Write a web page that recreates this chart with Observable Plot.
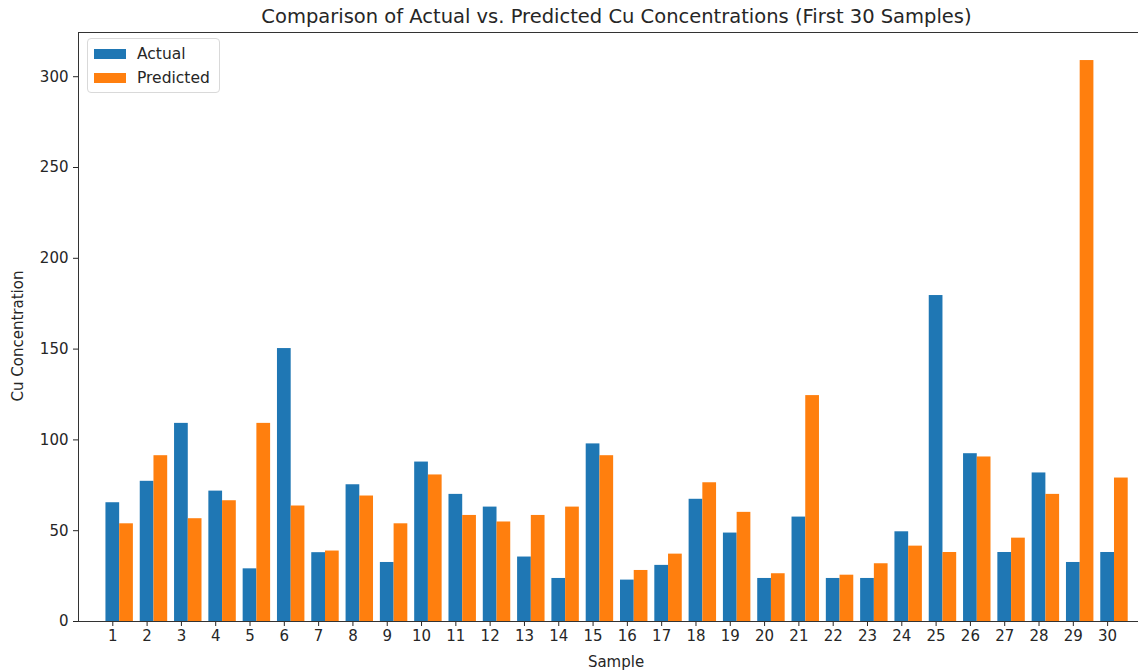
<!DOCTYPE html>
<html>
<head>
<meta charset="utf-8">
<script src="https://cdn.jsdelivr.net/npm/d3@7"></script>
<script src="https://cdn.jsdelivr.net/npm/@observablehq/plot@0.6"></script>
<style>
  html, body { margin: 0; padding: 0; background: #fff; }
  #wrap { position: relative; width: 1138px; height: 672px; overflow: hidden; font-family: "DejaVu Sans", sans-serif; color: #262626; }
  #title { position: absolute; left: 78px; width: 1077px; top: 5px; text-align: center; font-size: 19.5px; line-height: 24px; }
  #chart { position: absolute; left: 0; top: 28px; }
  #ylabel { position: absolute; left: 18px; top: 336px; transform: translate(-50%, -50%) rotate(-90deg); font-size: 15px; white-space: nowrap; }
  #xlabel { position: absolute; left: 616px; top: 662px; transform: translate(-50%, -50%); font-size: 15px; white-space: nowrap; }
  #legend { position: absolute; left: 87px; top: 38px; width: 133px; height: 55px; border: 1px solid #d9d9d9; border-radius: 4px; background: rgba(255,255,255,0.85); box-sizing: border-box; }
  .sw { position: absolute; left: 6px; width: 32px; height: 10px; }
  .lt { position: absolute; left: 49px; font-size: 15.5px; line-height: 18px; }
</style>
</head>
<body>
<div id="wrap">
  <div id="title"></div>
  <div id="chart"></div>
  <div id="ylabel"></div>
  <div id="xlabel"></div>
  <div id="legend"></div>
</div>
<script>
const titleText = "Comparison of Actual vs. Predicted Cu Concentrations (First 30 Samples)";
const xLabel = "Sample";
const yLabel = "Cu Concentration";
const series = ["Actual", "Predicted"];
const colors = ["#1f77b4", "#ff7f0e"];
const samples = [1,2,3,4,5,6,7,8,9,10,11,12,13,14,15,16,17,18,19,20,21,22,23,24,25,26,27,28,29,30];
const actual = [65.4,77.2,109.1,71.8,29.0,150.3,37.9,75.3,32.5,87.8,70.0,63.0,35.5,23.7,97.8,22.8,30.9,67.3,48.7,23.7,57.5,23.7,23.7,49.4,179.5,92.4,38.0,81.8,32.5,38.0];
const predicted = [53.8,91.3,56.6,66.5,109.1,63.6,38.8,69.1,53.8,80.7,58.4,54.8,58.4,63.0,91.3,28.1,37.1,76.4,60.1,26.3,124.4,25.5,31.8,41.5,38.0,90.6,45.9,70.0,308.9,79.0];
const yTicks = [0,50,100,150,200,250,300];

const rows = samples.flatMap((s, i) => [
  {sample: s, series: series[0], value: actual[i]},
  {sample: s, series: series[1], value: predicted[i]}
]);

const yMax = d3.max(rows, d => d.value) * 1.05;

const chart = Plot.plot({
  width: 1138,
  height: 644,
  marginLeft: 78,
  marginRight: 0,
  marginTop: 4,
  marginBottom: 51,
  style: {fontFamily: "DejaVu Sans, sans-serif", fontSize: "15px", color: "#262626", background: "transparent"},
  x: {domain: [0, 30.9], ticks: samples, tickFormat: d => String(d), tickSize: 5, tickPadding: 4, label: null},
  y: {domain: [0, yMax], ticks: yTicks, tickFormat: d => String(d), tickSize: 5, tickPadding: 5, label: null},
  color: {domain: series, range: colors},
  marks: [
    Plot.rect(rows, {
      x1: d => d.sample + (d.series === series[0] ? -0.2 : 0.2),
      x2: d => d.sample + (d.series === series[0] ? 0.2 : 0.6),
      y1: 0,
      y2: "value",
      fill: "series",
      inset: 0
    }),
    Plot.ruleY([0], {stroke: "#333"}),
    Plot.ruleY([yMax], {stroke: "#333"}),
    Plot.ruleX([0], {stroke: "#333"})
  ]
});
document.getElementById("chart").appendChild(chart);
document.getElementById("title").textContent = titleText;
document.getElementById("xlabel").textContent = xLabel;
document.getElementById("ylabel").textContent = yLabel;

const legend = document.getElementById("legend");
series.forEach((s, i) => {
  const sw = document.createElement("div");
  sw.className = "sw";
  sw.style.top = (10 + i * 24) + "px";
  sw.style.background = colors[i];
  legend.appendChild(sw);
  const t = document.createElement("div");
  t.className = "lt";
  t.style.top = (6 + i * 24) + "px";
  t.textContent = s;
  legend.appendChild(t);
});
</script>
</body>
</html>
